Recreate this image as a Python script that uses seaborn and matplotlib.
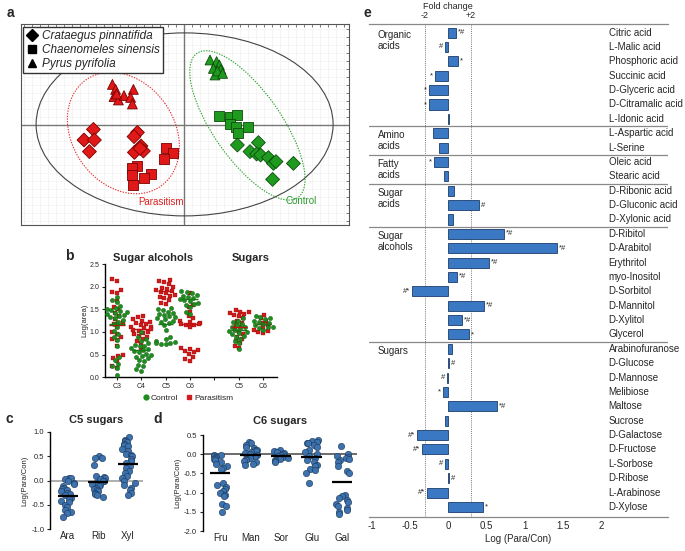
import warnings
import numpy as np
import pandas as pd
import seaborn as sns
import matplotlib.pyplot as plt
from matplotlib.patches import Ellipse
from matplotlib.lines import Line2D

warnings.filterwarnings('ignore')
np.random.seed(3)

# ---------------- data ----------------
# a: PCA scores (Comp1, Comp2)
species = ['Crataegus pinnatifida', 'Chaenomeles sinensis', 'Pyrus pyrifolia']
para_tri_x = [-3.58, -3.42, -3.50, -3.28, -3.00, -2.53, -2.67, -2.58, -3.37]
para_tri_y = [2.03, 1.78, 1.42, 1.25, 1.47, 1.78, 1.38, 1.05, 1.55]
para_dia_x = [-4.53, -5.00, -4.48, -4.73, -2.33, -2.50, -2.15, -2.03, -2.48, -2.20]
para_dia_y = [-0.22, -0.75, -0.75, -1.33, -0.37, -0.58, -1.05, -1.30, -1.37, -1.17]
para_sq_x = [-0.92, -0.53, -0.98, -2.37, -2.62, -2.58, -1.65, -2.00, -2.57]
para_sq_y = [-1.13, -1.42, -1.70, -2.03, -2.17, -2.50, -2.45, -2.63, -3.02]
ctrl_tri_x = [1.30, 1.63, 1.77, 1.85, 1.55, 1.47, 1.67, 1.93]
ctrl_tri_y = [3.25, 3.17, 3.00, 2.78, 2.50, 2.83, 2.70, 2.58]
ctrl_sq_x = [1.77, 2.30, 2.67, 2.30, 2.60, 3.22, 2.72]
ctrl_sq_y = [0.45, 0.42, 0.48, 0.05, -0.10, -0.08, -0.38]
ctrl_dia_x = [2.67, 3.72, 3.30, 3.63, 3.83, 4.22, 4.47, 4.60, 5.47, 4.43]
ctrl_dia_y = [-1.00, -0.88, -1.33, -1.45, -1.50, -1.63, -1.92, -1.83, -1.92, -2.72]
# confidence ellipses: (cx, cy, width, height, angle)
ell_all = (0.03, 0.03, 14.85, 9.15, 0)
ell_para = (-3.03, -0.40, 6.5, 5.1, 125)
ell_ctrl = (3.17, -0.02, 8.8, 3.4, -55)

# b: log(area) per carbon class
b_labels = ['C3', 'C4', 'C5', 'C6', '', 'C5', 'C6']
b_ctrl = [
    [1.78, 1.70, 1.66, 1.58, 1.52, 1.50, 1.48, 1.46, 1.44, 1.42, 1.40, 1.38, 1.36, 1.33, 1.30,
     1.26, 1.22, 1.18, 1.10, 1.02, 0.96, 0.90, 0.82, 0.70, 0.45, 0.38, 0.30, 0.24, 0.20, 0.06],
    [1.00, 0.88, 0.85, 0.80, 0.76, 0.72, 0.70, 0.68, 0.65, 0.62, 0.60, 0.58, 0.55, 0.52, 0.50,
     0.47, 0.45, 0.42, 0.38, 0.35, 0.28, 0.25, 0.18, 0.15],
    [1.52, 1.50, 1.48, 1.45, 1.42, 1.40, 1.38, 1.35, 1.32, 1.30, 1.28, 1.25, 1.22, 1.20, 1.15,
     1.05, 0.90, 0.85, 0.80, 0.78, 0.76, 0.75, 0.74, 0.73],
    [1.90, 1.88, 1.85, 1.82, 1.80, 1.78, 1.75, 1.72, 1.70, 1.68, 1.65, 1.62, 1.60, 1.55, 1.45, 1.40],
    [],
    [1.30, 1.25, 1.22, 1.18, 1.15, 1.12, 1.10, 1.08, 1.05, 1.02, 1.00, 0.98, 0.95, 0.92, 0.90,
     0.85, 0.80, 0.75, 0.62],
    [1.36, 1.33, 1.30, 1.28, 1.25, 1.22, 1.20, 1.18, 1.15, 1.12, 1.10, 1.08, 1.05],
]
b_para = [
    [2.17, 2.12, 1.92, 1.88, 1.86, 1.68, 1.55, 1.50, 1.42, 1.35, 1.28, 1.22, 1.20, 1.18, 1.10,
     1.00, 0.95, 0.88, 0.85, 0.82, 0.70, 0.50, 0.46, 0.42, 0.36, 0.25, 0.20],
    [1.36, 1.32, 1.28, 1.25, 1.22, 1.20, 1.18, 1.15, 1.12, 1.10, 1.08, 1.06, 1.05, 1.03, 1.00,
     0.98, 0.95, 0.92, 0.88, 0.85, 0.80, 0.75, 0.62],
    [2.15, 2.12, 2.10, 2.05, 2.00, 1.98, 1.95, 1.92, 1.90, 1.88, 1.85, 1.82, 1.80, 1.78, 1.75,
     1.70, 1.65, 1.62],
    [1.85, 1.60, 1.55, 1.45, 1.35, 1.30, 1.25, 1.22, 1.20, 1.18, 1.18, 1.16, 1.15, 1.10, 0.65,
     0.62, 0.60, 0.58, 0.55, 0.52, 0.45, 0.40, 0.36],
    [],
    [1.48, 1.45, 1.44, 1.42, 1.40, 1.38, 1.35, 1.30, 1.25, 1.20, 1.15, 1.10, 1.05, 1.00, 0.95,
     0.90, 0.85, 0.80, 0.75, 0.70, 0.65],
    [1.38, 1.30, 1.25, 1.20, 1.15, 1.10, 1.05, 1.02, 1.00, 0.98],
]
b_ctrl_mean = [1.17, 0.60, 1.17, 1.72, None, 1.05, 1.18]
b_para_mean = [1.15, 1.07, 1.90, 1.17, None, 1.10, 1.18]

# c: C5 sugars log(Para/Con)
c_cats = ['Ara', 'Rib', 'Xyl']
c_vals = [
    [0.06, 0.05, 0.03, 0.00, -0.05, -0.08, -0.12, -0.15, -0.18, -0.20, -0.22, -0.25, -0.28,
     -0.30, -0.35, -0.38, -0.42, -0.45, -0.50, -0.55, -0.60, -0.65, -0.67, -0.75],
    [0.50, 0.47, 0.46, 0.32, 0.10, 0.08, 0.05, 0.03, 0.00, -0.02, -0.05, -0.08, -0.10, -0.12,
     -0.15, -0.18, -0.20, -0.22, -0.25, -0.28, -0.30, -0.33],
    [0.90, 0.82, 0.80, 0.78, 0.75, 0.72, 0.70, 0.65, 0.60, 0.55, 0.52, 0.50, 0.45, 0.40, 0.35,
     0.30, 0.25, 0.20, 0.15, 0.10, 0.05, 0.00, -0.05, -0.10, -0.15, -0.20, -0.25, -0.30],
]
c_means = [-0.31, -0.04, 0.33]

# d: C6 sugars log(Para/Con)
d_cats = ['Fru', 'Man', 'Sor', 'Glu', 'Gal']
d_vals = [
    [-0.02, -0.03, -0.05, -0.08, -0.10, -0.12, -0.15, -0.20, -0.25, -0.30, -0.35, -0.38, -0.75,
     -0.80, -0.85, -0.90, -0.95, -1.00, -1.05, -1.10, -1.30, -1.35, -1.50],
    [0.32, 0.28, 0.25, 0.20, 0.15, 0.12, 0.10, 0.08, 0.05, 0.02, 0.00, -0.02, -0.05, -0.08,
     -0.10, -0.12, -0.15, -0.18, -0.20, -0.25, -0.28],
    [0.12, 0.08, 0.05, 0.02, 0.00, -0.02, -0.05, -0.08, -0.10, -0.12, -0.15, -0.18, -0.20],
    [0.38, 0.35, 0.32, 0.30, 0.28, 0.25, 0.20, 0.12, 0.05, 0.00, -0.05, -0.10, -0.15, -0.20,
     -0.28, -0.32, -0.38, -0.42, -0.50, -0.75],
    [0.22, 0.00, -0.05, -0.08, -0.10, -0.12, -0.15, -0.20, -0.30, -0.45, -0.50, -1.05, -1.10,
     -1.15, -1.20, -1.25, -1.30, -1.35, -1.40, -1.45, -1.50, -1.55],
]
d_means = [-0.50, -0.03, -0.05, -0.08, -0.73]

# e: metabolite fold changes
e_groups = ['Organic\nacids', 'Amino\nacids', 'Fatty\nacids', 'Sugar\nacids', 'Sugar\nalcohols', 'Sugars']
e_group_sizes = [7, 2, 2, 3, 8, 12]
e_names = ['Citric acid', 'L-Malic acid', 'Phosphoric acid', 'Succinic acid', 'D-Glyceric acid',
           'D-Citramalic acid', 'L-Idonic acid', 'L-Aspartic acid', 'L-Serine', 'Oleic acid',
           'Stearic acid', 'D-Ribonic acid', 'D-Gluconic acid', 'D-Xylonic acid', 'D-Ribitol',
           'D-Arabitol', 'Erythritol', 'myo-Inositol', 'D-Sorbitol', 'D-Mannitol', 'D-Xylitol',
           'Glycerol', 'Arabinofuranose', 'D-Glucose', 'D-Mannose', 'Melibiose', 'Maltose',
           'Sucrose', 'D-Galactose', 'D-Fructose', 'L-Sorbose', 'D-Ribose', 'L-Arabinose', 'D-Xylose']
e_vals = [0.10, -0.04, 0.13, -0.17, -0.25, -0.25, 0.017, -0.20, -0.12, -0.18, -0.05,
          0.08, 0.40, 0.06, 0.73, 1.42, 0.53, 0.12, -0.47, 0.47, 0.18, 0.28,
          0.057, 0.013, -0.013, -0.065, 0.645, -0.04, -0.40, -0.34, -0.035, 0.013, -0.27, 0.46]
e_marks = ['*#', '#', '*', '*', '*', '*', '', '', '', '*', '',
           '', '#', '', '*#', '*#', '*#', '*#', '#*', '*#', '*#', '*',
           '', '#', '#', '*', '*#', '', '#*', '#*', '#', '#', '#*', '*']

# ---------------- style ----------------
sns.set_style('white')
plt.rcParams['font.family'] = ['Liberation Sans', 'DejaVu Sans']
plt.rcParams['axes.unicode_minus'] = False

RED, RED_E = '#e01818', '#7a0000'
GRN, GRN_E = '#1f9a1f', '#0b4d0b'
BLUE, BLUE_E = '#3c72ad', '#1b3557'
BAR, BAR_E = '#3b78c3', '#1d3d6a'

W, H = 685, 551
fig = plt.figure(figsize=(6.85, 5.51), dpi=100)


def box(l, t, r, b):
    return [l / W, 1 - b / H, (r - l) / W, (b - t) / H]


# ---------------- panel a ----------------
rows = []
for g, xs, ys, sp in [('Parasitism', para_dia_x, para_dia_y, species[0]),
                      ('Parasitism', para_sq_x, para_sq_y, species[1]),
                      ('Parasitism', para_tri_x, para_tri_y, species[2]),
                      ('Control', ctrl_dia_x, ctrl_dia_y, species[0]),
                      ('Control', ctrl_sq_x, ctrl_sq_y, species[1]),
                      ('Control', ctrl_tri_x, ctrl_tri_y, species[2])]:
    for x, y in zip(xs, ys):
        rows.append({'x': x, 'y': y, 'group': g, 'species': sp})
dfa = pd.DataFrame(rows)
sp_markers = {species[0]: 'D', species[1]: 's', species[2]: '^'}

ax_a = fig.add_axes(box(21, 24, 349, 225))
ax_a.set_xlim(-8.15, 8.25)
ax_a.set_ylim(-5.0, 5.05)
ax_a.set_xticks(np.arange(-8.0, 8.2, 0.4))
ax_a.set_yticks(np.arange(-4.8, 5.0, 0.4))
ax_a.grid(True, color='#f1f1f1', lw=0.5)
ax_a.tick_params(direction='in', length=2.5, width=0.6, colors='#666', top=True, right=True,
                 labelbottom=False, labelleft=False)
for s in ax_a.spines.values():
    s.set_color('#555')
    s.set_linewidth(0.8)
ax_a.axhline(0, color='#777', lw=1.0, zorder=1)
ax_a.axvline(0, color='#777', lw=1.0, zorder=1)
for (cx, cy, w, h, ang), col, ls in [(ell_all, '#444', '-'), (ell_para, '#e83030', (0, (1.2, 1.2))),
                                      (ell_ctrl, '#2aa02a', (0, (1.2, 1.2)))]:
    ax_a.add_patch(Ellipse((cx, cy), w, h, angle=ang, fill=False, ec=col, ls=ls, lw=0.8, zorder=2))
for g, c, e in [('Parasitism', RED, RED_E), ('Control', GRN, GRN_E)]:
    sns.scatterplot(data=dfa[dfa['group'] == g], x='x', y='y', style='species', markers=sp_markers,
                    style_order=species, color=c, edgecolor=e, linewidth=0.6, s=50,
                    legend=False, ax=ax_a, zorder=3)
ax_a.set_xlabel('Comp1 (27.5%)', fontsize=6.5, labelpad=3)
ax_a.set_ylabel('Comp2 (23.1%)', fontsize=6.5, labelpad=3)
ax_a.text(-1.15, -3.85, 'Parasitism', color='#e02020', fontsize=7, ha='center', va='center')
ax_a.text(5.85, -3.8, 'Control', color='#2a9a2a', fontsize=7, ha='center', va='center')
handles = [Line2D([], [], marker=sp_markers[s], color='black', ls='', markersize=6) for s in species]
ax_a.legend(handles, species, loc='upper left', bbox_to_anchor=(0.004, 0.992),
            prop={'style': 'italic', 'size': 8.5}, frameon=True, fancybox=False,
            edgecolor='#333', framealpha=1, borderpad=0.25, labelspacing=0.2,
            handletextpad=0.4, handlelength=0.9, borderaxespad=0.1)

# ---------------- panel b ----------------
ax_b = fig.add_axes(box(105, 264, 277, 377.3))
b_pos = [i for i, v in enumerate(b_ctrl) if v]
dfb_c = pd.DataFrame([(p, v) for p in b_pos for v in b_ctrl[p]], columns=['pos', 'val'])
dfb_p = pd.DataFrame([(p, v) for p in b_pos for v in b_para[p]], columns=['pos', 'val'])
sns.swarmplot(data=dfb_p, x='pos', y='val', native_scale=True, orient='x', marker='s',
              color='#d01c1c', edgecolor='#8a0000', linewidth=0.2, size=3.2, ax=ax_b)
sns.swarmplot(data=dfb_c, x='pos', y='val', native_scale=True, orient='x', marker='o',
              color='#1e8c1e', edgecolor='#0b4d0b', linewidth=0.2, size=3.2, ax=ax_b)
for p in b_pos:
    ax_b.hlines(b_para_mean[p], p - 0.32, p + 0.32, color='#c01010', lw=1.0, zorder=5)
    ax_b.hlines(b_ctrl_mean[p], p - 0.32, p + 0.32, color='#157a15', lw=1.0, zorder=5)
ax_b.set_xlim(-0.48, 6.56)
ax_b.set_ylim(0, 2.5)
ax_b.set_xticks(range(len(b_labels)))
ax_b.set_xticklabels(b_labels)
ax_b.set_yticks(np.arange(0, 2.51, 0.5))
ax_b.set_yticklabels([f'{v:.1f}' for v in np.arange(0, 2.51, 0.5)])
ax_b.tick_params(labelsize=5, length=2.5, width=0.8, pad=1.5, direction='out', left=True, bottom=True)
sns.despine(ax=ax_b)
for s in ['left', 'bottom']:
    ax_b.spines[s].set_linewidth(1.0)
    ax_b.spines[s].set_color('black')
ax_b.set_xlabel('')
ax_b.set_ylabel('Log(area)', fontsize=5.5, labelpad=1)
ax_b.text(1.5, 2.63, 'Sugar alcohols', fontsize=8, fontweight='bold', ha='center', va='center')
ax_b.text(5.5, 2.63, 'Sugars', fontsize=8, fontweight='bold', ha='center', va='center')
b_handles = [Line2D([], [], marker='o', color='#1e8c1e', ls='', markersize=3.5),
             Line2D([], [], marker='s', color='#d01c1c', ls='', markersize=3.5)]
ax_b.legend(b_handles, ['Control', 'Parasitism'], loc='upper center', bbox_to_anchor=(0.48, -0.08),
            ncol=2, frameon=False, fontsize=6, handletextpad=0.1, columnspacing=0.8,
            handlelength=1.0)

# ---------------- panels c, d ----------------
def sugar_panel(rect, cats, vals, means, ylim, yticks, zero_col, xlim):
    ax = fig.add_axes(rect)
    df = pd.DataFrame([(c, v) for c, vs in zip(cats, vals) for v in vs], columns=['cat', 'val'])
    ax.axhline(0, color=zero_col, lw=1.1, zorder=1)
    sns.stripplot(data=df, x='cat', y='val', order=cats, color=BLUE, edgecolor=BLUE_E,
                  linewidth=0.4, size=4.6, jitter=0.24, ax=ax, zorder=3)
    for i, m in enumerate(means):
        ax.hlines(m, i - 0.34, i + 0.34, color='black', lw=1.6, zorder=5)
    ax.set_xlim(*xlim)
    ax.set_ylim(*ylim)
    ax.set_yticks(yticks)
    ax.set_yticklabels([f'{v:.1f}' for v in yticks])
    ax.tick_params(axis='y', labelsize=5.5, length=2.5, width=0.8, pad=1.5, left=True, direction='out')
    ax.tick_params(axis='x', labelsize=7, length=0, pad=1.5)
    sns.despine(ax=ax, bottom=True)
    ax.spines['left'].set_color('black')
    ax.spines['left'].set_linewidth(1.0)
    ax.set_xlabel('')
    ax.set_ylabel('Log(Para/Con)', fontsize=5.5, labelpad=2)
    return ax


ax_c = sugar_panel(box(50, 431.7, 143, 529.3), c_cats, c_vals, c_means, (-1.0, 1.0),
                   np.arange(-1.0, 1.01, 0.5), '#9a9a9a', (-0.6, 2.5))
ax_c.set_title('C5 sugars', fontsize=8, fontweight='bold', pad=6)
ax_d = sugar_panel(box(202.7, 435, 356.7, 531), d_cats, d_vals, d_means, (-2.0, 0.5),
                   np.arange(-2.0, 0.51, 0.5), '#444444', (-0.57, 4.48))
ax_d.set_title('C6 sugars', fontsize=8, fontweight='bold', pad=8)

# ---------------- panel e ----------------
ax_e = fig.add_axes(box(369, 24, 668, 517))
sns.barplot(x=e_vals, y=e_names, orient='h', color=BAR, edgecolor=BAR_E, linewidth=0.6,
            width=0.7, saturation=1, ax=ax_e)
ax_e.set_xlim(-1.033, 2.876)
ax_e.set_ylim(33.7, -0.6)
fc2 = np.log10(2)
for xv in (-fc2, fc2):
    ax_e.axvline(xv, color='#777', ls=(0, (1, 1.2)), lw=0.7, zorder=0)
for i, (v, m) in enumerate(zip(e_vals, e_marks)):
    if m:
        if v >= 0:
            ax_e.text(v + 0.025, i, m, fontsize=5.5, ha='left', va='center')
        else:
            ax_e.text(v - 0.025, i, m, fontsize=5.5, ha='right', va='center')
    ax_e.text(2.10, i, e_names[i], fontsize=7, ha='left', va='center')
start = 0
for gname, n in zip(e_groups, e_group_sizes):
    if start > 0:
        ax_e.axhline(start - 0.5, color='#888', lw=0.9)
    ax_e.text(-0.92, start - 0.2, gname, fontsize=7, ha='left', va='top', linespacing=1.1)
    start += n
ax_e.set_yticks([])
ax_e.set_ylabel('')
ax_e.set_xticks([-1, -0.5, 0, 0.5, 1, 1.5, 2])
ax_e.set_xticklabels(['-1', '-0.5', '0', '0.5', '1', '1.5', '2'])
ax_e.tick_params(axis='x', labelsize=7, length=0, pad=3)
for s in ['left', 'right']:
    ax_e.spines[s].set_visible(False)
for s in ['top', 'bottom']:
    ax_e.spines[s].set_color('#888')
    ax_e.spines[s].set_linewidth(0.9)
ax_e.set_xlabel('Log (Para/Con)', fontsize=7, labelpad=2)
ax_e.text(0.0, -1.85, 'Fold change', fontsize=6.5, ha='center', va='center', clip_on=False)
ax_e.text(-fc2, -1.2, '-2', fontsize=6.5, ha='center', va='center', clip_on=False)
ax_e.text(fc2, -1.2, '+2', fontsize=6.5, ha='center', va='center', clip_on=False)

# panel letters
for lab, x, y in [('a', 7, 13), ('b', 65, 256), ('c', 5, 419), ('d', 153, 419), ('e', 364, 13)]:
    fig.text(x / W, 1 - y / H, lab, fontsize=10, fontweight='bold', ha='left', va='center')

plt.savefig('out.png', dpi=100)
